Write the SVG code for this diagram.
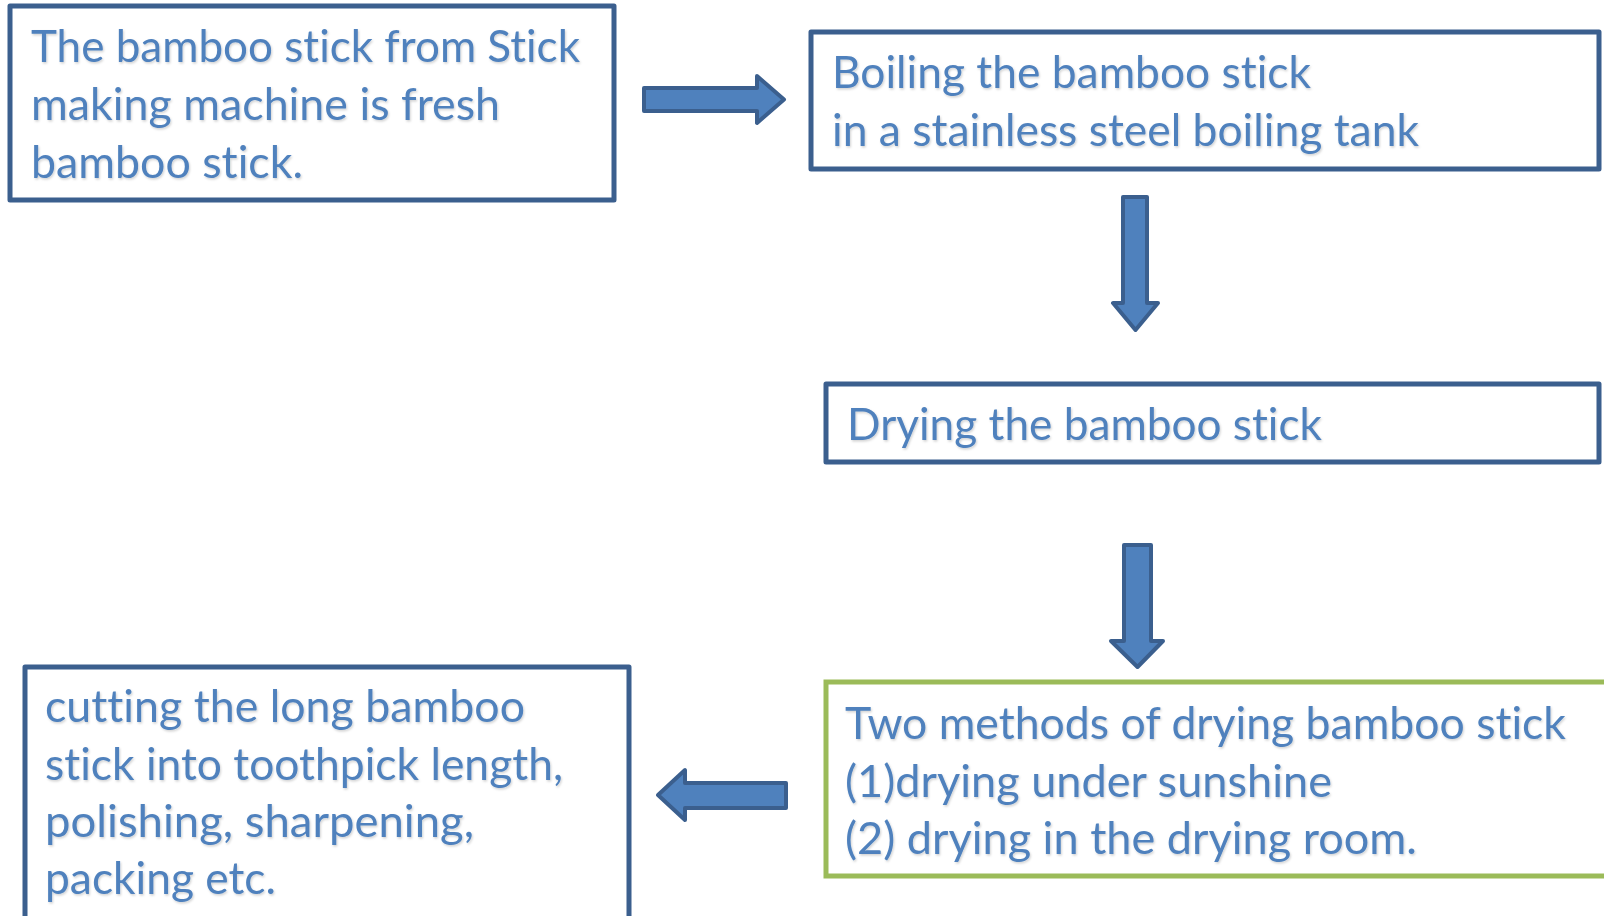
<svg xmlns="http://www.w3.org/2000/svg" width="1604" height="916" viewBox="0 0 1604 916">
<defs>
<style>
.box{fill:#ffffff;stroke:#3B5F8E;stroke-width:5;stroke-linejoin:round}
.green{fill:#ffffff;stroke:#9BBB59;stroke-width:5}
.t{font-family:Lato,"Open Sans","Liberation Sans",sans-serif;font-size:44px;fill:#4F81BD;filter:url(#sh);font-variant-ligatures:none}
.arr{fill:#4F81BD;stroke:#3B5F8E;stroke-width:4;stroke-linejoin:round}
</style>
<filter id="sh" x="-5%" y="-20%" width="110%" height="140%">
<feDropShadow dx="1" dy="1.5" stdDeviation="1" flood-color="#000000" flood-opacity="0.18"/>
</filter>
</defs>
<rect width="1604" height="916" fill="#ffffff"/>
<g id="connectors">
<path class="arr" d="M644,88 H757 V76 L784,99.5 L757,123 V111 H644 Z"/>
<path class="arr" d="M1123,197 H1147 V303 H1158 L1135.5,330 L1113,303 H1123 Z"/>
<path class="arr" d="M1124,545 H1151 V641 H1163 L1137.5,667 L1111,641 H1124 Z"/>
<path class="arr" d="M786,783 V808 H685 V820 L658,795 L685,770 V783 Z"/>
</g>
<g id="node1">
<rect class="box" x="10" y="6" width="604" height="194"/>
<text class="t" x="31" y="62" textLength="549" lengthAdjust="spacingAndGlyphs">The bamboo stick from Stick</text>
<text class="t" x="31" y="120" textLength="469" lengthAdjust="spacingAndGlyphs">making machine is fresh</text>
<text class="t" x="31" y="178" textLength="272" lengthAdjust="spacingAndGlyphs">bamboo stick.</text>
</g>
<g id="node2">
<rect class="box" x="811" y="32" width="788" height="137"/>
<text class="t" x="832" y="88" textLength="479" lengthAdjust="spacingAndGlyphs">Boiling the bamboo stick</text>
<text class="t" x="832" y="146" textLength="587" lengthAdjust="spacingAndGlyphs">in a stainless steel boiling tank</text>
</g>
<g id="node3">
<rect class="box" x="826" y="384" width="773" height="78"/>
<text class="t" x="847" y="440" textLength="475" lengthAdjust="spacingAndGlyphs">Drying the bamboo stick</text>
</g>
<g id="node4">
<rect class="green" x="826" y="682" width="800" height="194"/>
<text class="t" x="845" y="739" textLength="721" lengthAdjust="spacingAndGlyphs">Two methods of drying bamboo stick</text>
<text class="t" x="845" y="797" textLength="487" lengthAdjust="spacingAndGlyphs">(1)drying under sunshine</text>
<text class="t" x="845" y="854" textLength="572" lengthAdjust="spacingAndGlyphs">(2) drying in the drying room.</text>
</g>
<g id="node5">
<rect class="box" x="25" y="667" width="604" height="270"/>
<text class="t" x="45" y="722" textLength="480" lengthAdjust="spacingAndGlyphs">cutting the long bamboo</text>
<text class="t" x="45" y="780" textLength="518" lengthAdjust="spacingAndGlyphs">stick into toothpick length,</text>
<text class="t" x="45" y="837" textLength="429" lengthAdjust="spacingAndGlyphs">polishing, sharpening,</text>
<text class="t" x="45" y="894" textLength="231" lengthAdjust="spacingAndGlyphs">packing etc.</text>
</g>
</svg>
